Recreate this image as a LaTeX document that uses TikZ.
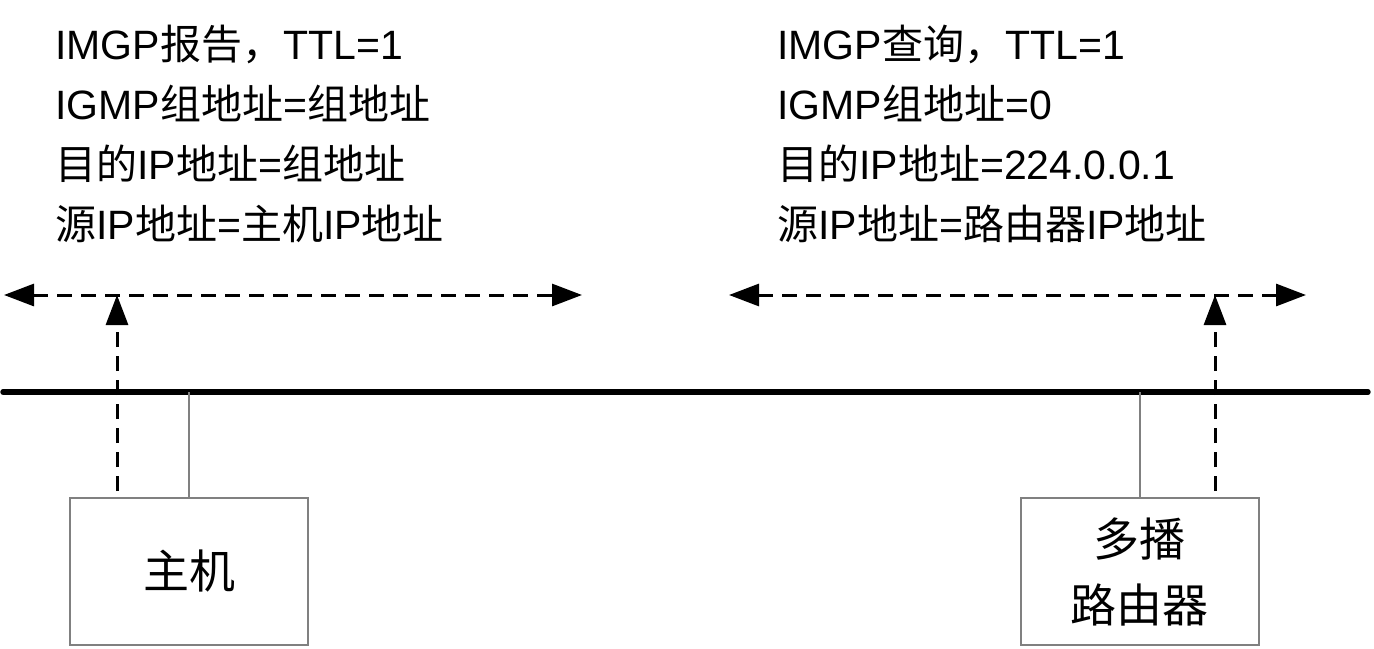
\documentclass[tikz,border=0pt]{standalone}
\usepackage{fontspec}
\setmainfont{Liberation Sans}
\newfontfamily\cjk{Noto Sans CJK SC}
\newcommand{\zh}[1]{{\cjk #1}}
\usetikzlibrary{arrows.meta,positioning}

\begin{document}
\begin{tikzpicture}[
    x=0.5pt, y=-0.5pt,
    >={Triangle[length=15pt,width=11pt]},
    msgtext/.style={anchor=north west, inner sep=0pt, align=left,
                    font=\fontsize{20.5}{30}\selectfont},
    device/.style={rectangle, draw=gray, line width=1pt, minimum width=119pt,
                   minimum height=73.5pt, inner sep=0pt, align=center,
                   font=\cjk\fontsize{23}{33}\selectfont},
    bus/.style={line width=2.7pt, line cap=round},
    drop/.style={draw=gray, line width=1pt},
    msg/.style={dash pattern=on 7.5pt off 4.5pt, line width=1.5pt}
]
\useasboundingbox (0,0) rectangle (1374,648);

% text of the two messages
\node[msgtext] (report) at (55,25)
    {IMGP\zh{报告，}TTL=1\\IGMP\zh{组地址}=\zh{组地址}\\\zh{目的}IP\zh{地址}=\zh{组地址}\\\zh{源}IP\zh{地址}=\zh{主机}IP\zh{地址}};
\node[msgtext] (query) at (777,25)
    {IMGP\zh{查询，}TTL=1\\IGMP\zh{组地址}=0\\\zh{目的}IP\zh{地址}=224.0.0.1\\\zh{源}IP\zh{地址}=\zh{路由器}IP\zh{地址}};

% devices
\node[device] (host)   at (189,571.5)   {主机};
\node[device] (router) at (1139.5,571.5) {多播\\路由器};

% the LAN
\coordinate (busL) at (3,392);
\coordinate (busR) at (1368,392);
\draw[bus] (busL) -- (busR);
\draw[drop] (host.north) -- (host.north |- busL);
\draw[drop] (router.north) -- (router.north |- busL);

% multicast on the LAN
\coordinate (hwL) at (4,295);
\coordinate (hwR) at (582,295);
\coordinate (rwL) at (729,295);
\coordinate (rwR) at (1306,295);
\coordinate (hostsrc)   at ([xshift=-36pt,yshift=3pt]host.north);
\coordinate (routersrc) at ([xshift=37.75pt,yshift=3pt]router.north);

\draw[msg, <->] (hwL) -- (hwR);
\draw[msg, <->] (rwL) -- (rwR);
\draw[msg, ->] (hostsrc) -- (hostsrc |- hwL);
\draw[msg, ->] (routersrc) -- (routersrc |- rwL);
\end{tikzpicture}
\end{document}
